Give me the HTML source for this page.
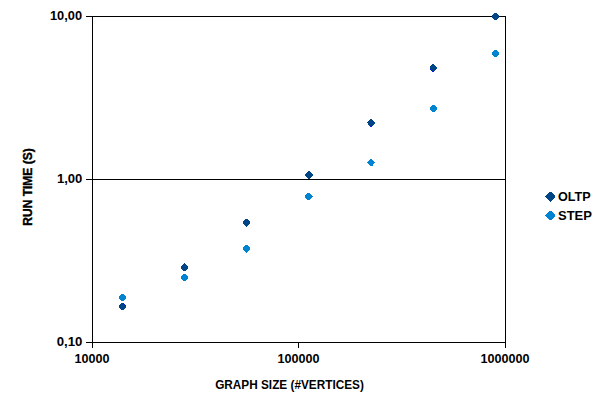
<!DOCTYPE html>
<html><head><meta charset="utf-8">
<style>
html,body{margin:0;padding:0;background:#fff;}
body{width:605px;height:411px;overflow:hidden;position:relative;}
svg{position:absolute;left:0;top:0;}
text{font-family:"Liberation Sans",sans-serif;font-weight:bold;fill:#000;}
</style></head><body>
<svg width="605" height="411" viewBox="0 0 605 411" shape-rendering="crispEdges">
  <g fill="#000">
    <rect x="86" y="16" width="420" height="1"/>
    <rect x="86" y="179" width="420" height="1"/>
    <rect x="86" y="342" width="420" height="1"/>
    <rect x="92" y="16" width="1" height="332"/>
    <rect x="505" y="16" width="1" height="332"/>
    <rect x="298" y="342" width="1" height="6"/>
  </g>
  <g shape-rendering="geometricPrecision">
    <text x="82" y="20" text-anchor="end" font-size="12.8">10,00</text>
    <text x="82.4" y="183" text-anchor="end" font-size="13.1">1,00</text>
    <text x="82.4" y="345.7" text-anchor="end" font-size="13.2">0,10</text>
    <text x="92" y="363" text-anchor="middle" font-size="12.6">10000</text>
    <text x="298.5" y="363" text-anchor="middle" font-size="12.6">100000</text>
    <text x="505" y="363" text-anchor="middle" font-size="12.6">1000000</text>
    <text transform="translate(289.5,389) scale(1,1.08)" text-anchor="middle" font-size="11.8">GRAPH SIZE (#VERTICES)</text>
    <text transform="translate(32,187) rotate(-90) scale(1,1.04)" text-anchor="middle" font-size="12" stroke="#000" stroke-width="0.35">RUN TIME (S)</text>
    <text x="558" y="201" font-size="12.6">OLTP</text>
    <text x="558" y="220" font-size="13">STEP</text>
  </g>
  <path id="mkd" fill="#004586" d="M121 303h3v1h-3ZM120 304h5v1h-5ZM119 305h7v3h-7ZM120 308h5v1h-5ZM121 309h3v1h-3ZM184 263h1v1h-1ZM183 264h3v1h-3ZM182 265h5v1h-5ZM181 266h7v3h-7ZM182 269h5v1h-5ZM183 270h3v1h-3ZM245 219h3v1h-3ZM244 220h5v1h-5ZM243 221h7v3h-7ZM244 224h5v1h-5ZM245 225h3v1h-3ZM246 226h1v1h-1ZM308 171h2v1h-2ZM307 172h4v1h-4ZM306 173h6v1h-6ZM305 174h8v2h-8ZM306 176h6v1h-6ZM307 177h4v1h-4ZM308 178h2v1h-2ZM370 119h2v1h-2ZM369 120h4v1h-4ZM368 121h6v1h-6ZM367 122h8v1h-8ZM368 123h7v1h-7ZM368 124h6v1h-6ZM369 125h4v1h-4ZM370 126h2v1h-2ZM432 64h2v1h-2ZM431 65h4v1h-4ZM430 66h6v1h-6ZM430 67h7v2h-7ZM430 69h6v1h-6ZM431 70h4v1h-4ZM432 71h2v1h-2ZM494 13h3v1h-3ZM493 14h5v1h-5ZM492 15h7v3h-7ZM493 18h5v1h-5ZM494 19h3v1h-3ZM549 192h3v1h-3ZM548 193h5v1h-5ZM547 194h7v1h-7ZM546 195h9v1h-9ZM545 196h10v1h-10ZM546 197h9v1h-9ZM547 198h7v1h-7ZM548 199h5v1h-5ZM549 200h3v1h-3ZM550 201h1v1h-1Z"/>
  <path id="mkl" fill="#0084d1" d="M121 294h3v1h-3ZM120 295h5v1h-5ZM119 296h7v3h-7ZM120 299h5v1h-5ZM121 300h3v1h-3ZM183 274h3v1h-3ZM182 275h5v1h-5ZM181 276h7v3h-7ZM182 279h5v1h-5ZM183 280h3v1h-3ZM245 245h3v1h-3ZM244 246h5v1h-5ZM243 247h7v3h-7ZM244 250h5v1h-5ZM245 251h3v1h-3ZM246 252h1v1h-1ZM307 193h3v1h-3ZM306 194h5v1h-5ZM305 195h7v1h-7ZM305 196h8v1h-8ZM305 197h7v1h-7ZM306 198h5v1h-5ZM307 199h3v1h-3ZM370 159h2v1h-2ZM369 160h4v1h-4ZM368 161h6v1h-6ZM367 162h8v1h-8ZM368 163h6v1h-6ZM369 164h4v1h-4ZM370 165h3v1h-3ZM432 105h3v1h-3ZM431 106h5v1h-5ZM430 107h7v3h-7ZM431 110h5v1h-5ZM432 111h3v1h-3ZM494 50h3v1h-3ZM493 51h5v1h-5ZM492 52h7v3h-7ZM493 55h5v1h-5ZM494 56h3v1h-3ZM549 211h3v1h-3ZM548 212h5v1h-5ZM547 213h7v1h-7ZM546 214h9v1h-9ZM545 215h10v1h-10ZM546 216h9v1h-9ZM547 217h7v1h-7ZM548 218h5v1h-5ZM549 219h3v1h-3Z"/>
  <path fill="#0a14e6" d="M430 69h1v1h-1ZM431 70h1v1h-1ZM432 71h1v1h-1ZM433 71h1v1h-1ZM370 126h1v1h-1ZM371 126h1v1h-1ZM123 303h1v1h-1ZM124 304h1v1h-1ZM125 305h1v1h-1ZM545 196h1v1h-1Z"/>
</svg>
</body></html>
